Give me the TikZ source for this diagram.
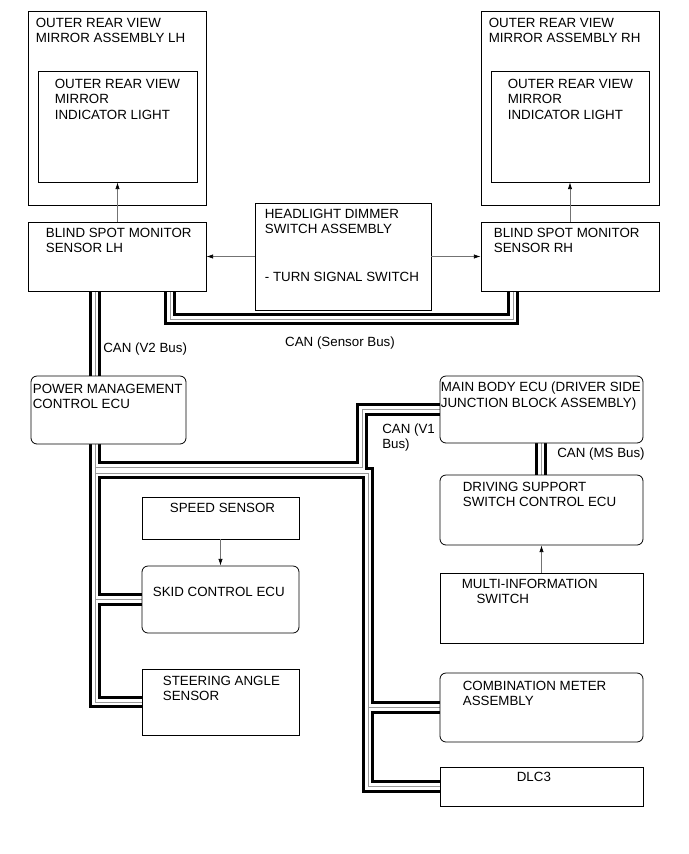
\documentclass[tikz,border=0pt]{standalone}
\usepackage{fontspec}
\setmainfont{Liberation Sans}
\usetikzlibrary{arrows.meta, backgrounds, fit, positioning}

\tikzset{
    unitbox/.style={draw=black, line width=0.6pt, fill=white, inner sep=0pt},
    ecubox/.style={unitbox, rounded corners=4.5pt},
    boxtext/.style={anchor=north west, inner sep=0pt, align=left, text=black,
        font=\fontsize{10}{11.8}\selectfont},
    buslabel/.style={anchor=base west, inner sep=0pt, text=black,
        font=\fontsize{10}{11.8}\selectfont},
    signal/.style={draw=black!55, line width=0.5pt,
        -{Latex[black, length=5pt, width=3.2pt]}},
    canouter/.style={draw=black, line width=9.6pt, line join=miter},
    caninner/.style={draw=white, line width=4.6pt, line join=miter},
    cancore/.style={draw=black!40, line width=0.6pt, line join=miter}
}

% CAN wiring, drawn in three passes
\newcommand\canroutes{%
    (bsml.south -| 95,0) -- (pm.north -| 95,0)
    (bsml.south -| 170,0) |- (513,319) -- (bsmr.south -| 513,0)
    (mbody.south -| 541,0) -- (drive.north -| 541,0)
    (pm.south -| 95,0) |- (steer.west)
    (skid.west -| 95,0) -- (skid.west)
    (jmb) -| (mbody.west -| 362,0) -- (mbody.west)
    (jcm) -| (dlc.west -| 368,0) -- (dlc.west)
    (comb.west -| 368,0) -- (comb.west)%
}

\begin{document}
\begin{tikzpicture}[x=0.75pt, y=-0.75pt]
\useasboundingbox (0,0) rectangle (689,854);

% Mirrors
\node[unitbox, fit={(28,11) (206,205)}] (mirl) {};
\node[unitbox, fit={(38,71) (197,182)}] (innl) {};
\node[unitbox, fit={(481,11) (659,205)}] (mirr) {};
\node[unitbox, fit={(491,71) (649,182)}] (innr) {};
\node[boxtext] (mirltext) at ([shift={(8,7)}]mirl.north west) {OUTER REAR VIEW\\MIRROR ASSEMBLY LH};
\node[boxtext] (innltext) at ([shift={(17,8)}]innl.north west) {OUTER REAR VIEW\\MIRROR\\INDICATOR LIGHT};
\node[boxtext] (mirrtext) at ([shift={(8,7)}]mirr.north west) {OUTER REAR VIEW\\MIRROR ASSEMBLY RH};
\node[boxtext] (innrtext) at ([shift={(17,8)}]innr.north west) {OUTER REAR VIEW\\MIRROR\\INDICATOR LIGHT};

% Sensors and switch
\node[unitbox, fit={(28,222) (206,291)}] (bsml) {};
\node[unitbox, fit={(481,222) (659,291)}] (bsmr) {};
\node[unitbox, fit={(255,203) (431,310)}] (head) {};
\node[boxtext] (bsmltext) at ([shift={(18,6)}]bsml.north west) {BLIND SPOT MONITOR\\SENSOR LH};
\node[boxtext] (bsmrtext) at ([shift={(13,6)}]bsmr.north west) {BLIND SPOT MONITOR\\SENSOR RH};
\node[boxtext] (headtext) at ([shift={(10,6)}]head.north west) {HEADLIGHT DIMMER\\SWITCH ASSEMBLY\\ \\ \\- TURN SIGNAL SWITCH};

% ECUs
\node[ecubox, fit={(31,376) (186,444)}] (pm) {};
\node[ecubox, fit={(440,376) (643,443)}] (mbody) {};
\node[ecubox, fit={(440,475) (643,545)}] (drive) {};
\node[unitbox, fit={(440,573) (643,643)}] (multi) {};
\node[boxtext] (pmtext) at ([shift={(2,8)}]pm.north west) {POWER MANAGEMENT\\CONTROL ECU};
\node[boxtext] (mbodytext) at ([shift={(1,6)}]mbody.north west) {MAIN BODY ECU (DRIVER SIDE\\JUNCTION BLOCK ASSEMBLY)};
\node[boxtext] (drivetext) at ([shift={(23,7)}]drive.north west) {DRIVING SUPPORT\\SWITCH CONTROL ECU};
\node[boxtext] (multitext) at ([shift={(22,6)}]multi.north west) {MULTI-INFORMATION\\\hspace*{11pt}SWITCH};

\node[unitbox, fit={(142,497) (299,539)}] (speed) {};
\node[ecubox, fit={(142,566) (299,633)}] (skid) {};
\node[unitbox, fit={(142,669) (299,735)}] (steer) {};
\node[boxtext] (speedtext) at ([shift={(28,6)}]speed.north west) {SPEED SENSOR};
\node[boxtext] (skidtext) at ([shift={(11,21)}]skid.north west) {SKID CONTROL ECU};
\node[boxtext] (steertext) at ([shift={(21,7)}]steer.north west) {STEERING ANGLE\\SENSOR};

\node[ecubox, fit={(440,673) (643,742)}] (comb) {};
\node[unitbox, fit={(440,767) (643,806)}] (dlc) {};
\node[boxtext] (combtext) at ([shift={(23,8)}]comb.north west) {COMBINATION METER\\ASSEMBLY};
\node[boxtext] (dlctext) at ([shift={(77,5)}]dlc.north west) {DLC3};

% Bus junctions
\coordinate (jmb) at (95,467);
\coordinate (jcm) at (95,473);

\begin{scope}[on background layer]
\foreach \layer in {canouter, caninner, cancore}
    \draw[\layer] \canroutes;
\end{scope}

% Bus labels
\node[buslabel] (v2lbl) at (103,352.8) {CAN (V2 Bus)};
\node[buslabel, anchor=base] (senslbl) at (340,346.8) {CAN (Sensor Bus)};
\node[boxtext] (v1lbl) at (382,423.2) {CAN (V1\\Bus)};
\node[buslabel] (mslbl) at (557,457.8) {CAN (MS Bus)};

% Signal lines
\draw[signal] (bsml.north -| innl.south) -- (innl.south);
\draw[signal] (bsmr.north -| innr.south) -- (innr.south);
\draw[signal] (head.west) -- (bsml.east |- head.west);
\draw[signal] (head.east) -- (bsmr.west |- head.east);
\draw[signal] (speed.south) -- (skid.north);
\draw[signal] (multi.north) -- (drive.south);

\end{tikzpicture}
\end{document}
